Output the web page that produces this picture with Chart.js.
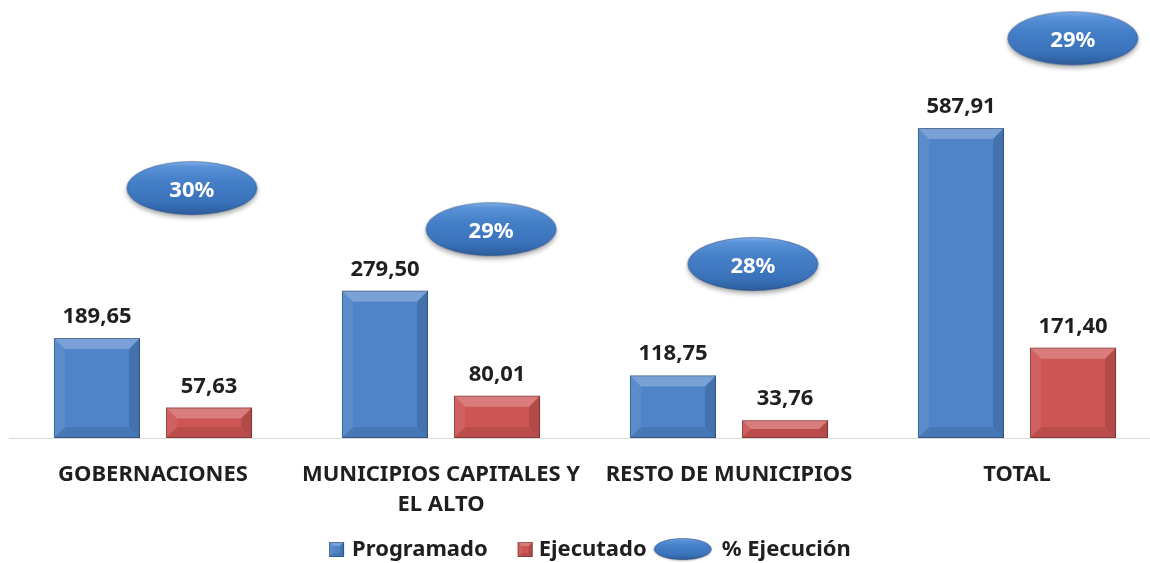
<!DOCTYPE html>
<html><head><meta charset="utf-8">
<script src="https://cdn.jsdelivr.net/npm/chart.js@4.4.0/dist/chart.umd.min.js"></script>
<style>html,body{margin:0;padding:0;background:#fff;overflow:hidden;width:1150px;height:563px}canvas{display:block}</style>
</head><body>
<canvas id="c" width="1165" height="563"></canvas>
<script>
const categories = [["GOBERNACIONES"], ["MUNICIPIOS CAPITALES Y", "EL ALTO"], ["RESTO DE MUNICIPIOS"], ["TOTAL"]];
const programado = [189.65, 279.50, 118.75, 587.91];
const ejecutado = [57.63, 80.01, 33.76, 171.40];
const pctLabels = ["30%", "29%", "28%", "29%"];
// anchor of each % bubble (x in category-index units, y in value units)
const pctAnchorX = [0.135, 1.174, 2.083, 3.194];
const pctAnchorY = [474, 396, 330, 758];
const seriesNames = ["Programado", "Ejecutado", "% Ejecución"];

const FONT = '"Noto Sans", sans-serif';
const BLUE = '#4f84c9', RED = '#cd5553';

function ellipseCanvas(w, h, pad, blur) {
  const c = document.createElement('canvas');
  c.width = w + pad * 2; c.height = h + pad * 2;
  const g = c.getContext('2d');
  const cx = c.width / 2, cy = c.height / 2;
  const path = () => { g.beginPath(); g.ellipse(cx, cy, w / 2 - 0.5, h / 2 - 0.5, 0, 0, Math.PI * 2); };
  g.save();
  g.shadowColor = 'rgba(0,0,0,0.35)'; g.shadowBlur = blur; g.shadowOffsetY = blur * 0.6;
  path();
  const gr = g.createLinearGradient(0, cy - h / 2, 0, cy + h / 2);
  gr.addColorStop(0, '#86b4ec'); gr.addColorStop(0.1, '#5b93d9'); gr.addColorStop(0.35, '#4580c8');
  gr.addColorStop(0.75, '#3b73bb'); gr.addColorStop(1, '#2c5c9c');
  g.fillStyle = gr; g.fill();
  g.restore();
  path(); g.strokeStyle = 'rgba(30,65,120,0.55)'; g.lineWidth = 1; g.stroke();
  return c;
}
const bubble = ellipseCanvas(131, 54, 8, 5);
const legendBubble = ellipseCanvas(58, 22, 3, 2);

function poly(ctx, pts, fill) {
  ctx.beginPath(); ctx.moveTo(pts[0][0], pts[0][1]);
  for (let i = 1; i < pts.length; i++) ctx.lineTo(pts[i][0], pts[i][1]);
  ctx.closePath(); ctx.fillStyle = fill; ctx.fill();
}
function bevel(ctx, l, t, r, b, maxD) {
  const w = r - l, h = b - t;
  const d = Math.min(maxD, h / 2, w / 2);
  poly(ctx, [[l, t], [r, t], [r - d, t + d], [l + d, t + d]], 'rgba(255,255,255,0.24)');
  poly(ctx, [[l, t], [l + d, t + d], [l + d, b - d], [l, b]], 'rgba(255,255,255,0.07)');
  poly(ctx, [[r, t], [r, b], [r - d, b - d], [r - d, t + d]], 'rgba(0,0,0,0.13)');
  poly(ctx, [[l, b], [l + d, b - d], [r - d, b - d], [r, b]], 'rgba(0,0,0,0.09)');
  ctx.strokeStyle = 'rgba(0,0,0,0.28)'; ctx.lineWidth = 1;
  ctx.strokeRect(l + 0.5, t + 0.5, w - 1, h - 1);
}

const decor = {
  id: 'decor',
  afterDatasetDraw(chart, args) {
    if (args.index > 1) return;
    const ctx = chart.ctx;
    args.meta.data.forEach(el => {
      const p = el.getProps(['x', 'y', 'base', 'width'], true);
      bevel(ctx, p.x - p.width / 2, Math.min(p.y, p.base), p.x + p.width / 2, Math.max(p.y, p.base), 11);
    });
  },
  afterDatasetsDraw(chart) {
    const ctx = chart.ctx;
    const xs = chart.scales.x, ys = chart.scales.y;
    ctx.save();
    ctx.font = 'bold 22px ' + FONT;
    ctx.textAlign = 'center'; ctx.textBaseline = 'alphabetic';
    ctx.fillStyle = '#1f1f1f';
    [0, 1].forEach(di => {
      const ds = chart.data.datasets[di];
      chart.getDatasetMeta(di).data.forEach((el, i) => {
        ctx.fillText(ds.data[i].toFixed(2).replace('.', ','), el.x, el.y - 15);
      });
    });
    pctLabels.forEach((lab, i) => {
      const px = xs.getPixelForValue(pctAnchorX[i]);
      const py = ys.getPixelForValue(pctAnchorY[i]);
      ctx.drawImage(bubble, px - bubble.width / 2, py - bubble.height / 2);
      ctx.fillStyle = '#ffffff';
      ctx.fillText(lab, px, py + 9);
    });
    ctx.restore();
  },
  afterDraw(chart) {
    const ctx = chart.ctx;
    ctx.save();
    ctx.font = 'bold 22px ' + FONT;
    ctx.textBaseline = 'middle'; ctx.textAlign = 'left';
    const cy = 549;
    const items = [
      { sym: 16, gap: 7, text: seriesNames[0], color: BLUE, after: 30 },
      { sym: 16, gap: 5, text: seriesNames[1], color: RED, after: 7 },
      { sym: 58, gap: 10, text: seriesNames[2], bubble: true, after: 0 }
    ];
    let total = 0;
    items.forEach(it => { it.tw = ctx.measureText(it.text).width; total += it.sym + it.gap + it.tw + it.after; });
    let x = 590 - total / 2;
    items.forEach(it => {
      if (it.bubble) {
        ctx.drawImage(legendBubble, x + it.sym / 2 - legendBubble.width / 2, cy - legendBubble.height / 2);
      } else {
        ctx.fillStyle = it.color;
        ctx.fillRect(x, cy - 7, 15, 15);
        bevel(ctx, x, cy - 7, x + 15, cy + 8, 4);
      }
      x += it.sym + it.gap;
      ctx.fillStyle = '#1f1f1f';
      ctx.fillText(it.text, x, cy + 1);
      x += it.tw + it.after;
    });
    ctx.restore();
  }
};

new Chart(document.getElementById('c'), {
  type: 'bar',
  data: {
    labels: categories,
    datasets: [
      { label: seriesNames[0], data: programado, backgroundColor: BLUE, borderWidth: 0, categoryPercentage: 0.778, barPercentage: 0.768 },
      { label: seriesNames[1], data: ejecutado, backgroundColor: RED, borderWidth: 0, categoryPercentage: 0.778, barPercentage: 0.768 }
    ]
  },
  options: {
    responsive: false, animation: false,
    layout: { autoPadding: false, padding: { left: 9, right: 4, top: 0, bottom: 0 } },
    plugins: { legend: { display: false }, tooltip: { enabled: false } },
    scales: {
      x: {
        grid: { display: false, drawTicks: false },
        border: { display: true, color: '#d9d9d9', width: 1 },
        ticks: { font: { family: FONT, weight: 'bold', size: 22, lineHeight: 1.36 }, color: '#1f1f1f', padding: 22, maxRotation: 0, autoSkip: false },
        afterFit(s) { s.height = 125; }
      },
      y: { display: false, min: 0, max: 830.7 }
    }
  },
  plugins: [decor]
});
</script>
</body></html>
